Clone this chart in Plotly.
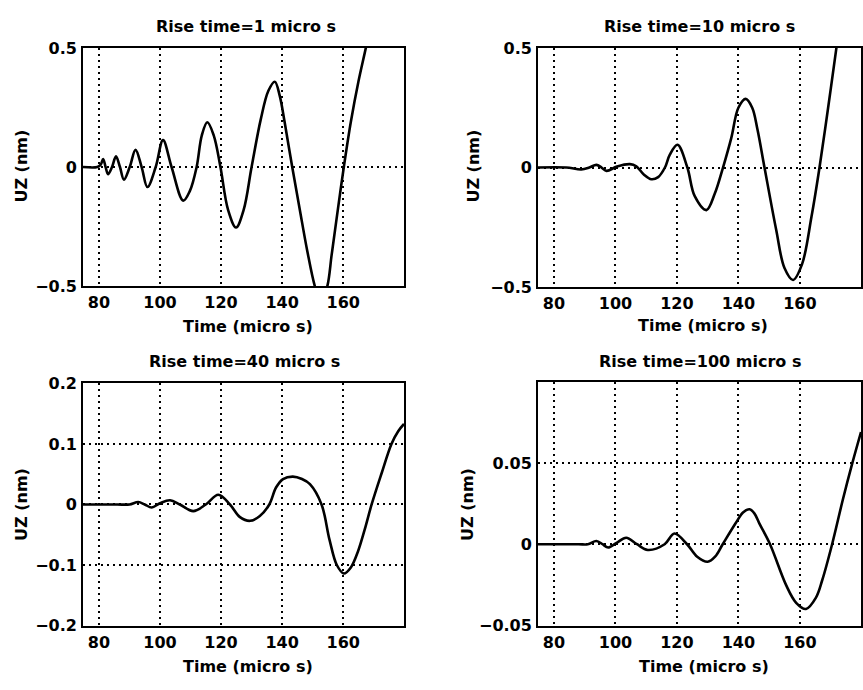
import plotly.graph_objects as go

# ---------------- data ----------------
t1 = [74.8, 79.5, 80.6, 81.4, 82.2, 83.0, 84.3, 85.6, 86.9, 88.2, 90.1, 92.0, 94.0, 95.9,
      98.6, 101.0, 103.8, 107.6, 109.8, 112.0, 113.7, 115.5, 117.6, 119.8, 122.3, 124.9,
      127.4, 130.0, 133.0, 135.5, 137.6, 139.2, 140.8, 143.3, 145.8, 148.2, 150.7, 152.7,
      154.8, 156.2, 157.8, 160.2, 162.5, 165.0, 167.4, 170.0]
u1 = [0, 0, 0.01, 0.034, 0, -0.030, 0, 0.045, 0, -0.053, 0, 0.072, 0, -0.084,
      0, 0.113, 0, -0.141, -0.10, 0, 0.133, 0.188, 0.133, 0, -0.18, -0.254,
      -0.18, 0, 0.20, 0.32, 0.358, 0.30, 0.19, 0, -0.18, -0.35, -0.50, -0.57,
      -0.50, -0.37, -0.22, 0, 0.19, 0.36, 0.5, 0.66]

t2 = [74.8, 84.0, 88.9, 91.5, 93.8, 95.5, 97.1, 100.5, 104.7, 106.8, 109.3, 111.7, 113.9,
      116.1, 117.7, 120.2, 123.4, 125.8, 129.6, 132.3, 135.0, 137.7, 140.0, 142.4, 144.5,
      146.2, 148.5, 152.3, 155.0, 157.8, 160.7, 163.8, 166.4, 169.2, 171.9, 174.5]
u2 = [0, 0, -0.008, 0, 0.011, 0, -0.014, 0.004, 0.014, 0.005, -0.03, -0.049, -0.04,
      0, 0.054, 0.095, 0, -0.12, -0.178, -0.11, 0, 0.124, 0.25, 0.287, 0.25,
      0.16, 0, -0.26, -0.42, -0.47, -0.405, -0.205, 0, 0.25, 0.5, 0.74]

t3 = [74.8, 86.0, 90.0, 92.9, 95.0, 97.3, 100.0, 103.3, 106.5, 110.9, 115.0, 119.1, 122.9,
      126.2, 129.5, 132.7, 135.8, 138.0, 140.3, 143.5, 146.5, 149.1, 152.9, 155.5, 157.9,
      160.2, 162.5, 164.8, 167.0, 169.3, 172.6, 175.8, 178.0, 179.9]
u3 = [0, 0, 0, 0.004, 0, -0.005, 0.002, 0.007, 0, -0.011, 0, 0.016, 0,
      -0.021, -0.027, -0.019, 0, 0.028, 0.042, 0.046, 0.042, 0.0335, 0, -0.058, -0.100,
      -0.114, -0.104, -0.078, -0.042, 0, 0.052, 0.1, 0.121, 0.133]

t4 = [74.8, 88.0, 91.0, 93.8, 95.8, 97.6, 100.5, 103.5, 107.0, 110.5, 116.0, 119.2, 123.3,
      126.6, 130.0, 132.5, 134.9, 139.3, 141.5, 143.6, 145.2, 146.9, 150.3, 155.5, 158.8,
      162.0, 165.2, 167.3, 170.5, 174.0, 177.1, 179.9]
u4 = [0, 0, 0, 0.002, 0, -0.002, 0.001, 0.004, 0, -0.0035, 0, 0.0066, 0,
      -0.0077, -0.0108, -0.0075, 0, 0.0135, 0.0195, 0.0215, 0.019, 0.0125, 0, -0.025, -0.036,
      -0.0398, -0.033, -0.022, 0, 0.0275, 0.05, 0.069]

titles = ["Rise time=1 micro s", "Rise time=10 micro s",
          "Rise time=40 micro s", "Rise time=100 micro s"]
x_label = "Time (micro s)"
y_label = "UZ (nm)"
x_ticks = [80, 100, 120, 140, 160]
y_ticks = [[-0.5, 0, 0.5], [-0.5, 0, 0.5], [-0.2, -0.1, 0, 0.1, 0.2], [-0.05, 0, 0.05]]
y_ranges = [[-0.5, 0.5], [-0.5, 0.5], [-0.2, 0.2], [-0.05, 0.0995]]
x_range = [74.8, 179.9]

series = [(t1, u1), (t2, u2), (t3, u3), (t4, u4)]

# ---------------- layout geometry ----------------
W, H = 863, 690
boxes = [(83, 404, 40, 285), (538, 861, 40, 286), (83, 404, 385, 634), (538, 861, 384, 634)]
title_pos = [(246, 18), (699, 18), (244, 362), (700, 362)]
xlab_pos = [(248, 326), (703, 325), (248, 676), (704, 676)]
ylab_pos = [(22, 162), (474, 162), (22, 510), (468, 510)]

FONT = dict(family="DejaVu Sans", size=16, color="black", weight="bold")

fig = go.Figure()
layout = dict(width=W, height=H, margin=dict(l=0, r=0, t=0, b=0),
              paper_bgcolor="white", plot_bgcolor="white", showlegend=False,
              font=FONT, annotations=[])

for i, ((t, u), (x0, x1, y0, y1)) in enumerate(zip(series, boxes)):
    n = "" if i == 0 else str(i + 1)
    fig.add_trace(go.Scatter(x=t, y=u, mode="lines", xaxis="x" + n, yaxis="y" + n,
                             line=dict(color="black", width=2.6, shape="spline", smoothing=1.0),
                             hoverinfo="skip"))
    common = dict(showline=True, mirror=True, linecolor="black", linewidth=1.8,
                  showgrid=True, gridcolor="black", gridwidth=1.7, griddash="2px,4px",
                  zeroline=False, ticks="", tickfont=FONT)
    layout["xaxis" + n] = dict(domain=[x0 / W, x1 / W], anchor="y" + n, range=x_range,
                               tickvals=x_ticks, ticklabelstandoff=1, **common)
    layout["yaxis" + n] = dict(domain=[1 - y1 / H, 1 - y0 / H], anchor="x" + n,
                               range=y_ranges[i], tickvals=y_ticks[i], ticklabelstandoff=1,
                               **common)
    for txt, (px, py), ang in [(titles[i], title_pos[i], 0), (x_label, xlab_pos[i], 0),
                               (y_label, ylab_pos[i], -90)]:
        layout["annotations"].append(dict(text=txt, x=px / W, y=1 - py / H, xref="paper",
                                          yref="paper", xanchor="center", yanchor="middle",
                                          showarrow=False, textangle=ang, font=FONT))

fig.update_layout(**layout)
fig.write_html("out.html")
